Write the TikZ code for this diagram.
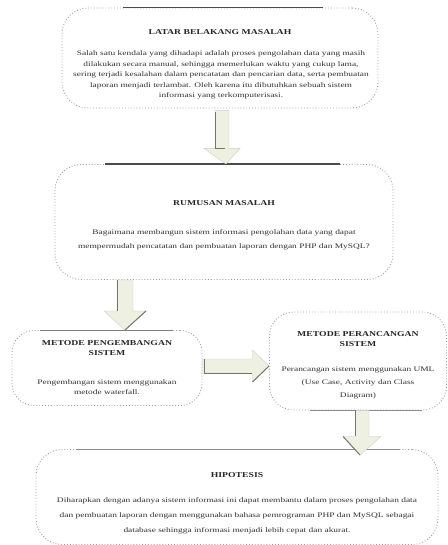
\documentclass[tikz,border=0pt]{standalone}
\usepackage{fontspec}
\usepackage{graphicx}
\setmainfont{Liberation Serif}
\usetikzlibrary{calc}
\definecolor{arrowfill}{HTML}{EEF0E2}
\definecolor{arrowedge}{HTML}{74766A}
\newcommand{\widepar}[3]{\scalebox{#1}[1]{\parbox{#2}{\centering #3}}}
\tikzset{
  box/.style={draw=gray!75, dotted, line width=0.9pt, fill=white, rounded corners=26bp, inner sep=0pt},
  topline/.style={draw=black!70, line width=1.3pt},
  titletext/.style={font=\bfseries\fontsize{7.5}{10}\selectfont, align=center, text=black!85, inner sep=0pt},
  bodytext/.style={font=\fontsize{7}{10.5}\selectfont, align=center, text=black!80, inner sep=0pt},
  blockfill/.style={fill=arrowfill, draw=arrowfill!70!gray, line width=0.4pt},
  blockedge/.style={draw=arrowedge, line width=1pt}
}
\begin{document}
\begin{tikzpicture}[x=1bp,y=-1bp]
\useasboundingbox (0,0) rectangle (448,545);

% ---------- boxes ----------
\node[box, minimum width=316bp, minimum height=100bp] (b1) at (220,58) {};
\node[box, minimum width=338bp, minimum height=115bp] (b2) at (224,222) {};
\node[box, minimum width=190bp, minimum height=75bp, rounded corners=22bp] (b3) at (107,368) {};
\node[box, minimum width=177bp, minimum height=98bp, rounded corners=24bp] (b4) at (358,361) {};
\node[box, minimum width=402bp, minimum height=95bp] (b5) at (237,497) {};

% ---------- solid edge lines ----------
\draw[topline] ([xshift=-97bp]b1.north) -- ([xshift=103bp]b1.north);
\draw[topline] ([xshift=-119bp]b2.north) -- ([xshift=116bp]b2.north);
\draw[topline, draw=black!50, line width=0.9pt] ([xshift=-67bp]b3.north) -- ([xshift=66bp]b3.north);
\draw[topline, draw=black!45, line width=0.9pt] ([xshift=-48bp]b4.south) -- ([xshift=64bp]b4.south);
\draw[topline, draw=black!45, line width=0.9pt] ([xshift=-160bp]b5.north) -- ([xshift=163bp]b5.north);

% ---------- texts ----------
\node[titletext] (t1) at (220,32) {\widepar{1.3}{200bp}{LATAR BELAKANG MASALAH}};
\node[bodytext] (d1) at (221,75) {\widepar{1.35}{219bp}{Salah satu kendala yang dihadapi adalah proses pengolahan data yang masih dilakukan secara manual, sehingga memerlukan waktu yang cukup lama, sering terjadi kesalahan dalam pencatatan dan pencarian data, serta pembuatan laporan menjadi terlambat. Oleh karena itu dibutuhkan sebuah sistem informasi yang terkomputerisasi.}};

\node[titletext] (t2) at (224,203) {\widepar{1.3}{200bp}{RUMUSAN MASALAH}};
\node[bodytext, font=\fontsize{7}{14}\selectfont] (d2) at (224,240) {\widepar{1.35}{233bp}{Bagaimana membangun sistem informasi pengolahan data yang dapat mempermudah pencatatan dan pembuatan laporan dengan PHP dan MySQL?}};

\node[titletext] (t3) at (107,348) {\widepar{1.3}{130bp}{METODE PENGEMBANGAN\\SISTEM}};
\node[bodytext] (d3) at (107,387) {\widepar{1.35}{124bp}{Pengembangan sistem menggunakan metode waterfall.}};

\node[titletext] (t4) at (358,339) {\widepar{1.3}{130bp}{METODE PERANCANGAN\\SISTEM}};
\node[bodytext, font=\fontsize{7}{13}\selectfont] (d4) at (358,383) {\widepar{1.35}{125bp}{Perancangan sistem menggunakan UML\\(Use Case, Activity dan Class\\Diagram)}};

\node[titletext] (t5) at (237,475) {\widepar{1.3}{200bp}{HIPOTESIS}};
\node[bodytext, font=\fontsize{7}{15}\selectfont] (d5) at (237,516) {\widepar{1.35}{274bp}{Diharapkan dengan adanya sistem informasi ini dapat membantu dalam proses pengolahan data dan pembuatan laporan dengan menggunakan bahasa pemrograman PHP dan MySQL sebagai database sehingga informasi menjadi lebih cepat dan akurat.}};

% ---------- helper coordinates ----------
\coordinate (x125) at (125,0);
\coordinate (x362) at (362,0);
\coordinate (x360) at (360,0);
\coordinate (y366) at (0,366);

% ---------- block arrows (connectors) ----------
% b1 -> b2
\coordinate (a1) at ($(b1.south)+(2,2)$);
\filldraw[blockfill] ($(a1)+(-7,0)$) -- ($(a1)+(7,0)$) -- ($(a1)+(7,38)$) -- ($(a1)+(18,38)$) -- ($(b2.north)+(2,0)$) -- ($(a1)+(-18,38)$) -- ($(a1)+(-7,38)$) -- cycle;
\draw[blockedge] ($(a1)+(-7,2)$) -- ($(a1)+(-7,38)$) -- ($(a1)+(3,38)$);

% b2 -> b3
\coordinate (a2) at (b2.south -| x125);
\coordinate (a2t) at (b3.north -| x125);
\filldraw[blockfill] ($(a2)+(-8,0)$) -- ($(a2)+(8,0)$) -- ($(a2)+(8,31)$) -- ($(a2)+(21,31)$) -- (a2t) -- ($(a2)+(-21,31)$) -- ($(a2)+(-8,31)$) -- cycle;
\draw[blockedge] ($(a2)+(-8,0)$) -- ($(a2)+(-8,31)$);
\draw[blockedge] ($(a2)+(21,31)$) -- (a2t);

% b3 -> b4
\coordinate (a3) at (b3.east |- y366);
\coordinate (a3t) at (b4.west |- y366);
\filldraw[blockfill] ($(a3)+(0,-7)$) -- ($(a3)+(50,-7)$) -- ($(a3)+(50,-16)$) -- (a3t) -- ($(a3)+(50,16)$) -- ($(a3)+(50,7)$) -- ($(a3)+(0,7)$) -- cycle;
\draw[blockedge] ($(a3)+(2,-7)$) -- ($(a3)+(2,7)$) -- ($(a3)+(50,7)$);
\draw[blockedge] ($(a3)+(50,16)$) -- (a3t);

% b4 -> b5
\coordinate (a4) at (b4.south -| x362);
\coordinate (a4t) at (b5.north -| x360);
\filldraw[blockfill] ($(a4)+(-7,0)$) -- ($(a4)+(7,0)$) -- ($(a4)+(7,26)$) -- ($(a4)+(19,26)$) -- ($(a4t)+(0,6)$) -- ($(a4)+(-19,26)$) -- ($(a4)+(-7,26)$) -- cycle;
\draw[blockedge] ($(a4)+(-7,0)$) -- ($(a4)+(-7,26)$);
\draw[blockedge] ($(a4)+(-19,26)$) -- ($(a4t)+(0,6)$);

\end{tikzpicture}
\end{document}
